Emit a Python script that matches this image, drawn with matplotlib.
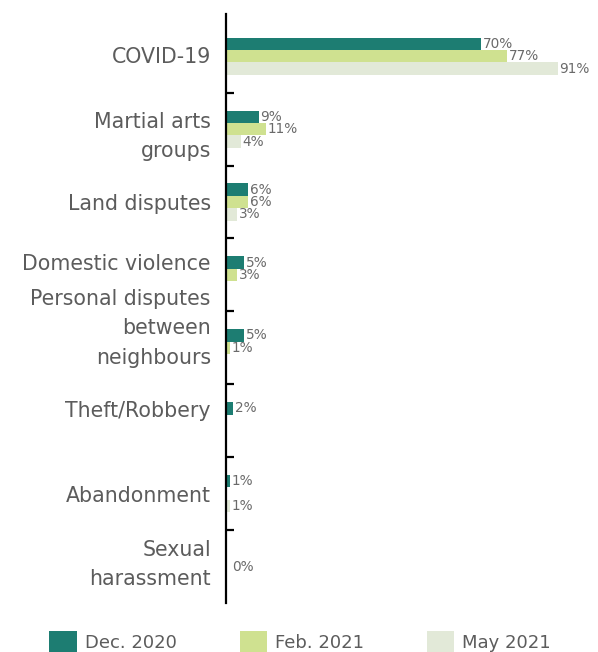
import matplotlib
matplotlib.use("Agg")
import matplotlib.pyplot as plt
import matplotlib.transforms as mtransforms
from matplotlib.patches import Patch
import numpy as np

# reasons cited, share of respondents (%); None = no bar / no label
categories = ["COVID-19", "Martial arts\ngroups", "Land disputes", "Domestic violence",
              "Personal disputes\nbetween\nneighbours", "Theft/Robbery", "Abandonment",
              "Sexual\nharassment"]
series_names = ["Dec. 2020", "Feb. 2021", "May 2021"]
dec_2020 = [70, 9, 6, 5, 5, 2, 1, None]
feb_2021 = [77, 11, 6, 3, 1, None, None, 0]
may_2021 = [91, 4, 3, None, None, None, 1, None]

colors = ["#1d7d72", "#cfe190", "#e2e9d8"]
label_nudge_px = [1, -1, 0, 13, 26, 12, 0, 9]   # upward shift of the category labels
FONT = "DejaVu Sans"
GREY = "#5c5c5c"

DPI = 100
fig = plt.figure(figsize=(5.98, 6.52), dpi=DPI)
ax = fig.add_axes([0.378, 0.0752, 0.622, 0.9034])

n = len(categories)
y = np.arange(n)
bar_h = 0.17
for k, vals in enumerate([dec_2020, feb_2021, may_2021]):
    pos = y + (k - 1) * bar_h
    widths = [0 if v is None else v for v in vals]
    ax.barh(pos, widths, height=bar_h, color=colors[k], edgecolor="none")
    for p, v in zip(pos, vals):
        if v is None:
            continue
        ax.annotate(f"{v}%", (v, p), xytext=(1.2 if v else 4.5, 0), textcoords="offset points",
                    va="center", ha="left", fontsize=9.8, color="#6a6a6a", family=FONT)

ax.set_xlim(0, 102)
ax.set_ylim(n - 0.5, -0.58)

for s in ["top", "right", "bottom"]:
    ax.spines[s].set_visible(False)
ax.spines["left"].set_linewidth(1.6)
ax.spines["left"].set_color("black")
ax.xaxis.set_visible(False)

ax.set_yticks(y)
ax.set_yticklabels(categories, fontsize=14.8, color=GREY, family=FONT,
                   linespacing=1.57, ha="right")
ax.tick_params(axis="y", which="major", length=0, pad=11)
ax.set_yticks(y[:-1] + 0.5, minor=True)
ax.tick_params(axis="y", which="minor", direction="in", length=6, width=1.6, color="black")

for lbl, dy in zip(ax.get_yticklabels(), label_nudge_px):
    lbl.set_transform(lbl.get_transform() +
                      mtransforms.ScaledTranslation(0, dy / DPI, fig.dpi_scale_trans))

handles = [Patch(facecolor=c, edgecolor="none") for c in colors]
fig.legend(handles, series_names, loc="center", bbox_to_anchor=(0.502, 0.016), ncol=3,
           frameon=False, handlelength=1.5, handleheight=1.5,
           handletextpad=0.45, columnspacing=3.5,
           prop={"family": FONT, "size": 13}, labelcolor=GREY)

fig.savefig("out.png", dpi=DPI)
